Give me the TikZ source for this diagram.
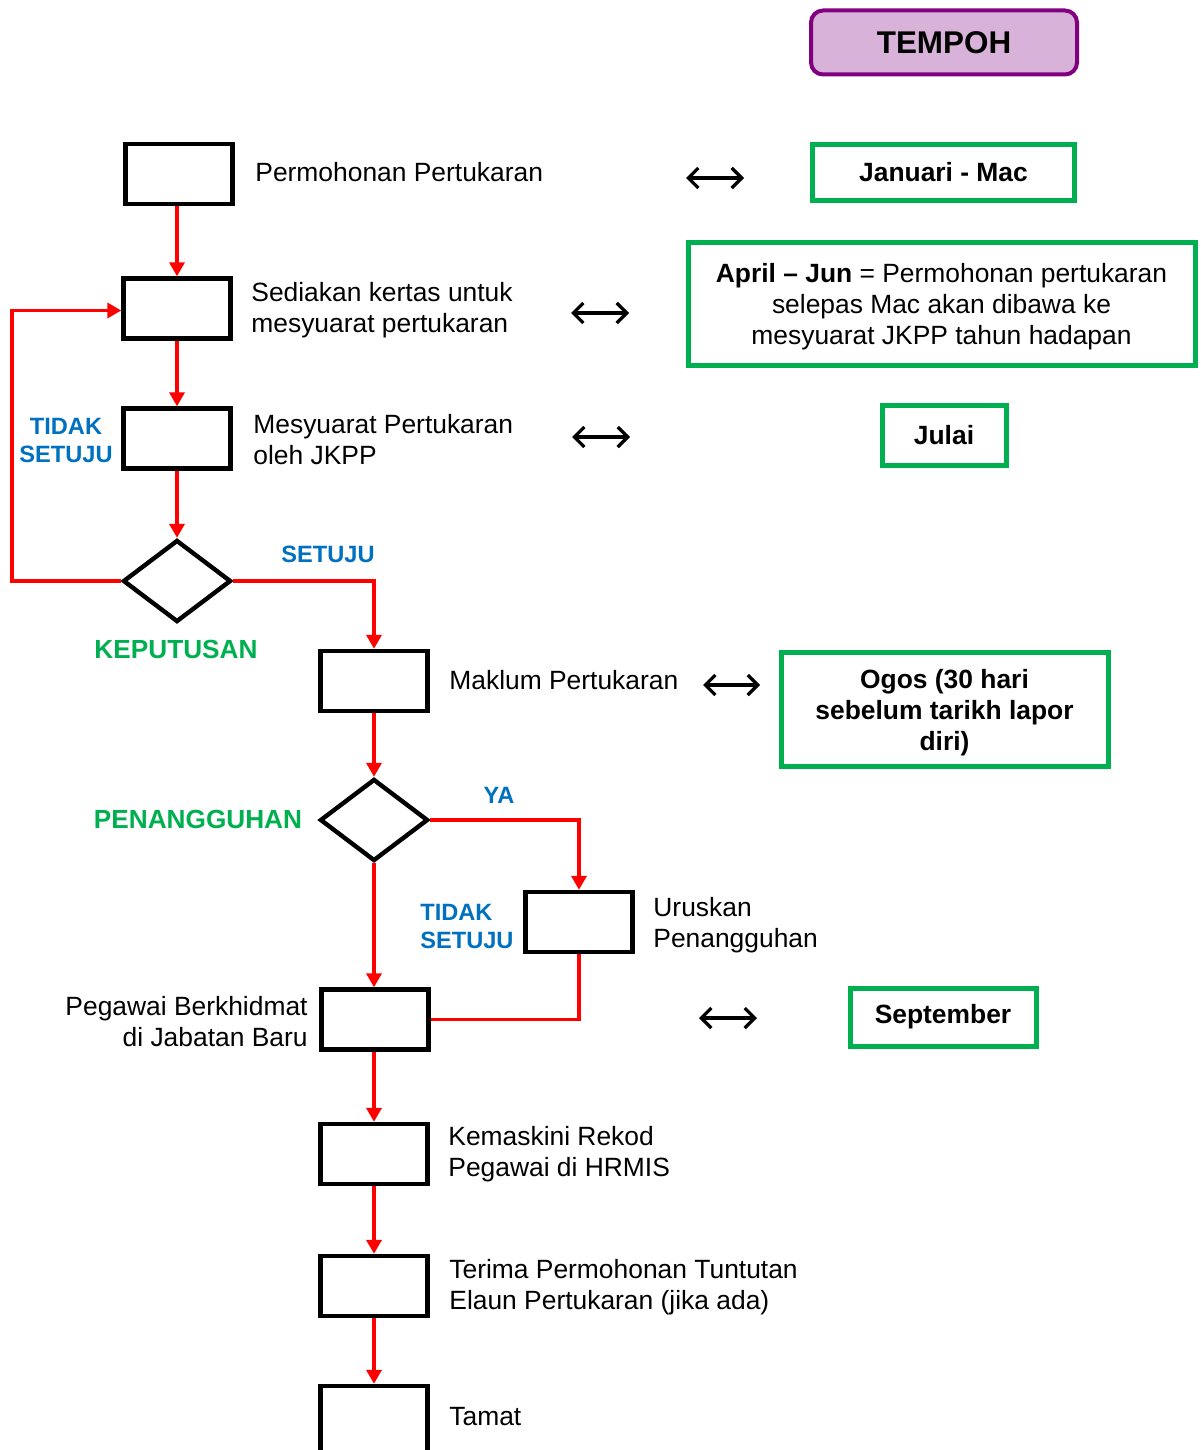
\documentclass[tikz,border=0pt]{standalone}
\usepackage{fontspec}
\setmainfont{Liberation Sans}
\usetikzlibrary{arrows.meta,shapes.geometric}
\definecolor{flowred}{HTML}{FF0000}
\definecolor{tgreen}{HTML}{00B050}
\definecolor{tblue}{HTML}{0070C0}
\definecolor{tpurple}{HTML}{800080}
\definecolor{tpink}{HTML}{D9B2DA}
\tikzset{
  stepbox/.style={draw=black,line width=2.2pt,minimum width=53.5pt,minimum height=30pt,inner sep=0pt},
  decbox/.style={diamond,draw=black,line width=2.2pt,minimum width=54pt,minimum height=41pt,inner sep=0pt},
  flow/.style={draw=flowred,line width=1.8pt,-{Triangle[length=7pt,width=7.5pt]}},
  flowplain/.style={draw=flowred,line width=1.8pt},
  body/.style={inner sep=0pt,font=\fontsize{13.2}{15.5}\selectfont},
  blab/.style={inner sep=0pt,text=tblue,font=\fontsize{11.8}{14}\selectfont\bfseries},
  glab/.style={inner sep=0pt,text=tgreen,font=\fontsize{13.1}{15.5}\selectfont\bfseries},
  timebox/.style={draw=tgreen,line width=2.5pt,inner sep=0pt,align=center,font=\fontsize{13.2}{15.5}\selectfont},
  dbl/.style={draw=black,line width=1.6pt,{Straight Barb[length=5pt,width=10pt,line width=1.6pt]}-{Straight Barb[length=5pt,width=10pt,line width=1.6pt]}},
}
\begin{document}
\begin{tikzpicture}[x=0.5pt,y=-0.5pt]
\clip (0,0) rectangle (1200,1450);
\fill[white] (0,0) rectangle (1200,1450);

% left column
\node[stepbox] (b1) at (179,174) {};
\node[stepbox] (b2) at (177,308.5) {};
\node[stepbox] (b3) at (177,438.5) {};
\node[decbox] (d1) at (177,581) {};
\node[stepbox] (b4) at (374,681) {};
\node[decbox] (d2) at (374,820) {};
\node[stepbox] (b5) at (579,922) {};
\node[stepbox] (b6) at (375,1019.5) {};
\node[stepbox] (b7) at (374,1154) {};
\node[stepbox] (b8) at (374,1286) {};
\node[stepbox,minimum height=40pt] (b9) at (374,1426) {};

% connectors
\coordinate (loopL) at (12,581);
\draw[flow] (b1.south -| b2.north) -- (b2.north);
\draw[flow] (b2.south) -- (b3.north);
\draw[flow] (b3.south) -- (d1.north);
\draw[flow] (d1.west) -- (loopL) |- ([yshift=-1pt]b2.west);
\draw[flow] (d1.east) -| (b4.north);
\draw[flow] (b4.south) -- (d2.north);
\draw[flow] (d2.east) -| (b5.north);
\draw[flow] (d2.south) -- (d2.south |- b6.north);
\draw[flowplain] (b5.south) |- (b6.east);
\draw[flow] (b6.south -| b7.north) -- (b7.north);
\draw[flow] (b7.south) -- (b8.north);
\draw[flow] (b8.south) -- (b9.north);

% step texts
\node[body,anchor=west] (t1) at (255,172) {Permohonan Pertukaran};
\node[body,anchor=west,align=left] (t2) at (251,310) {Sediakan kertas untuk\\mesyuarat pertukaran};
\node[body,anchor=west,align=left] (t3) at (253,440) {Mesyuarat Pertukaran\\oleh JKPP};
\node[body,anchor=west] (t4) at (449,680) {Maklum Pertukaran};
\node[body,anchor=west,align=left] (t5) at (653,925) {Uruskan\\Penangguhan};
\node[body,anchor=east,align=right] (t6) at (308,1022) {Pegawai Berkhidmat\\di Jabatan Baru};
\node[body,anchor=west,align=left] (t7) at (448,1154) {Kemaskini Rekod\\Pegawai di HRMIS};
\node[body,anchor=west,align=left] (t8) at (449,1287) {Terima Permohonan Tuntutan\\Elaun Pertukaran (jika ada)};
\node[body,anchor=west] (t9) at (449,1417) {Tamat};

% labels
\node[blab,align=center] (l1) at (66,440) {TIDAK\\SETUJU};
\node[blab] (l2) at (328,554) {SETUJU};
\node[glab] (l3) at (176,649) {KEPUTUSAN};
\node[glab] (l4) at (198,819) {PENANGGUHAN};
\node[blab] (l5) at (499,795) {YA};
\node[blab,align=left,anchor=west] (l6) at (420,926) {TIDAK\\SETUJU};

% time column
\node[draw=tpurple,fill=tpink,line width=2pt,rounded corners=6pt,minimum width=133pt,minimum height=32pt,inner sep=0pt,font=\fontsize{15.7}{18}\selectfont\bfseries] (tempoh) at (944,42.5) {TEMPOH};
\node[timebox,minimum width=131pt,minimum height=28pt,font=\fontsize{13.2}{15.5}\selectfont\bfseries] (p1) at (943.5,172.5) {Januari - Mac};
\node[timebox,minimum width=253.5pt,minimum height=61.5pt] (p2) at (941.5,303.5) {\raisebox{-1.5pt}[\height][\depth]{\parbox{250pt}{\centering\textbf{April -- Jun} = Permohonan pertukaran\\selepas Mac akan dibawa ke\\mesyuarat JKPP tahun hadapan}}};
\node[timebox,minimum width=62pt,minimum height=30pt,font=\fontsize{13.2}{15.5}\selectfont\bfseries] (p3) at (944,435) {Julai};
\node[timebox,minimum width=163.5pt,minimum height=57pt,font=\fontsize{13.2}{15.5}\selectfont\bfseries] (p4) at (944.5,709) {\raisebox{-2pt}[\height][\depth]{\parbox{160pt}{\centering Ogos (30 hari\\sebelum tarikh lapor\\diri)}}};
\node[timebox,minimum width=93pt,minimum height=29pt,font=\fontsize{13.2}{15.5}\selectfont\bfseries] (p5) at (943,1017) {September};

% double arrows
\draw[dbl] (686,178) -- (744,178);
\draw[dbl] (571,313) -- (629,313);
\draw[dbl] (572,437) -- (630,437);
\draw[dbl] (703,685) -- (760,685);
\draw[dbl] (699,1018) -- (757,1018);
\end{tikzpicture}
\end{document}
